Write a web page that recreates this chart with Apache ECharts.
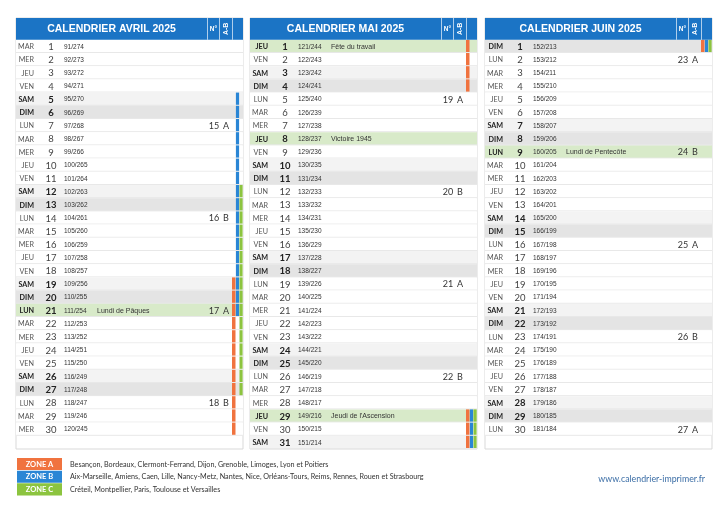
<!DOCTYPE html>
<html><head><meta charset="utf-8">
<script src="https://cdn.jsdelivr.net/npm/echarts@6/dist/echarts.min.js"></script>
<style>html,body{margin:0;padding:0;background:#fff}#c{width:728px;height:515px}</style>
</head><body><div id="c"></div>
<script>
// ---------------- DATA ----------------
const monthNames = ['AVRIL', 'MAI', 'JUIN'];
const monthNumbers = [4, 5, 6];
const yearLabel = '2025';
const daysInYear = 365;
const firstDayOfYear = [91, 121, 152];

const dayNamesAvril = ['MAR','MER','JEU','VEN','SAM','DIM','LUN','MAR','MER','JEU','VEN','SAM','DIM','LUN','MAR','MER','JEU','VEN','SAM','DIM','LUN','MAR','MER','JEU','VEN','SAM','DIM','LUN','MAR','MER'];
const dayNamesMai = ['JEU','VEN','SAM','DIM','LUN','MAR','MER','JEU','VEN','SAM','DIM','LUN','MAR','MER','JEU','VEN','SAM','DIM','LUN','MAR','MER','JEU','VEN','SAM','DIM','LUN','MAR','MER','JEU','VEN','SAM'];
const dayNamesJuin = ['DIM','LUN','MAR','MER','JEU','VEN','SAM','DIM','LUN','MAR','MER','JEU','VEN','SAM','DIM','LUN','MAR','MER','JEU','VEN','SAM','DIM','LUN','MAR','MER','JEU','VEN','SAM','DIM','LUN'];

const weeksAvril = [[7, '15', 'A'], [14, '16', 'B'], [21, '17', 'A'], [28, '18', 'B']];
const weeksMai = [[5, '19', 'A'], [12, '20', 'B'], [19, '21', 'A'], [26, '22', 'B']];
const weeksJuin = [[2, '23', 'A'], [9, '24', 'B'], [16, '25', 'A'], [23, '26', 'B'], [30, '27', 'A']];

const holidaysAvril = [[21, 'Lundi de Pâques']];
const holidaysMai = [[1, 'Fête du travail'], [8, 'Victoire 1945'], [29, "Jeudi de l'Ascension"]];
const holidaysJuin = [[9, 'Lundi de Pentecôte']];

// school holidays: [fromMonth, fromDay, toMonth, toDay]
const vacancesZoneA = [[4, 19, 5, 4], [5, 29, 6, 1]];
const vacancesZoneB = [[4, 5, 4, 21], [5, 29, 6, 1]];
const vacancesZoneC = [[4, 12, 4, 27], [5, 29, 6, 1]];

const zoneNames = ['ZONE A', 'ZONE B', 'ZONE C'];
const zoneCities = [
  'Besançon, Bordeaux, Clermont-Ferrand, Dijon, Grenoble, Limoges, Lyon et Poitiers',
  'Aix-Marseille, Amiens, Caen, Lille, Nancy-Metz, Nantes, Nice, Orléans-Tours, Reims, Rennes, Rouen et Strasbourg',
  'Créteil, Montpellier, Paris, Toulouse et Versailles'
];
const siteUrl = 'www.calendrier-imprimer.fr';

// ---------------- STYLE / LAYOUT ----------------
const dayNamesAll = [dayNamesAvril, dayNamesMai, dayNamesJuin];
const weeksAll = [weeksAvril, weeksMai, weeksJuin];
const holidaysAll = [holidaysAvril, holidaysMai, holidaysJuin];
const vacAll = [vacancesZoneA, vacancesZoneB, vacancesZoneC];
const zoneColors = ['#f0733f', '#2a86d5', '#8cc43f'];
const headerBlue = '#1b74c5';
const panelLefts = [16, 250, 485];
const panelTop = 18, panelBottom = 449, panelW = 227;
const rows = 31, headerUnits = 1.65;
const colDayRight = 18, colNum = 35, colDoy = 48, colHol = 81, colWeek = 198, colLetter = 210;
const colN = 191, colAB = 203, colBars = 216;
const barEdges = [216, 219.9, 223.5, 227];
const SANS = '"Liberation Sans", Arial, sans-serif';
const LATO = 'Lato, "Open Sans", sans-serif';

function inVac(ranges, m, d) {
  const k = m * 100 + d;
  return ranges.some(r => k >= r[0] * 100 + r[1] && k <= r[2] * 100 + r[3]);
}

const chart = echarts.init(document.getElementById('c'), null, {renderer: 'canvas'});
const grids = [], xAxes = [], yAxes = [], series = [];

monthNames.forEach((mName, mi) => {
  grids.push({left: panelLefts[mi], top: panelTop, width: panelW, height: panelBottom - panelTop,
    show: true, borderColor: '#d9d9d9', borderWidth: 1, backgroundColor: '#fff'});
  xAxes.push({type: 'value', gridIndex: mi, min: 0, max: panelW, show: false});
  yAxes.push({type: 'value', gridIndex: mi, min: -headerUnits, max: rows, inverse: true, show: false});

  const names = dayNamesAll[mi];
  const weeks = weeksAll[mi];
  const hols = holidaysAll[mi];
  const mNum = monthNumbers[mi];

  // rows
  series.push({
    type: 'custom', xAxisIndex: mi, yAxisIndex: mi, silent: true,
    data: names.map((n, i) => [i + 1]),
    renderItem: function (params, api) {
      const d = api.value(0);
      const row = d - 1;
      const X = v => api.coord([v, row])[0];
      const y0 = api.coord([0, row])[1];
      const y1 = api.coord([0, row + 1])[1];
      const h = y1 - y0, ym = y0 + h / 2 + 0.5;
      const name = names[row];
      const hol = hols.find(x => x[0] === d);
      const wk = weeks.find(x => x[0] === d);
      const weekend = name === 'SAM' || name === 'DIM';
      const bold = weekend || !!hol;
      let bg = '#ffffff';
      if (hol) bg = '#d8eac9';
      else if (name === 'SAM') bg = '#f3f3f3';
      else if (name === 'DIM') bg = '#e4e4e4';
      const ch = [];
      ch.push({type: 'rect', shape: {x: X(0), y: y0, width: X(panelW) - X(0), height: h}, style: {fill: bg}});
      ch.push({type: 'line', shape: {x1: X(0), y1: y1 - 0.5, x2: X(panelW), y2: y1 - 0.5}, style: {stroke: '#e8e8e8', lineWidth: 1}});
      ch.push({type: 'text', style: {x: X(colDayRight), y: ym, text: name, align: 'right', verticalAlign: 'middle',
        fill: bold ? '#222' : '#555', font: (bold ? 'bold ' : '') + '7.2px ' + LATO}});
      ch.push({type: 'text', style: {x: X(colNum), y: ym, text: String(d), align: 'center', verticalAlign: 'middle',
        fill: bold ? '#222' : '#444', font: (bold ? 'bold ' : '') + '9.5px ' + LATO}});
      const doy = firstDayOfYear[mi] + row;
      ch.push({type: 'text', style: {x: X(colDoy), y: ym, text: doy + '/' + (daysInYear - doy), align: 'left', verticalAlign: 'middle',
        fill: '#333', font: '6.5px ' + SANS}});
      if (hol) ch.push({type: 'text', style: {x: X(colHol), y: ym, text: hol[1], align: 'left', verticalAlign: 'middle',
        fill: '#333', font: '7px ' + SANS}});
      if (wk) {
        ch.push({type: 'text', style: {x: X(colWeek), y: ym, text: wk[1], align: 'center', verticalAlign: 'middle', fill: '#333', font: '9px ' + LATO}});
        ch.push({type: 'text', style: {x: X(colLetter), y: ym, text: wk[2], align: 'center', verticalAlign: 'middle', fill: '#333', font: '9px ' + LATO}});
      }
      vacAll.forEach((ranges, zi) => {
        if (inVac(ranges, mNum, d)) {
          ch.push({type: 'rect', shape: {x: X(barEdges[zi]), y: y0, width: X(barEdges[zi + 1]) - X(barEdges[zi]) - 0.4, height: h - 1},
            style: {fill: zoneColors[zi]}});
        }
      });
      return {type: 'group', children: ch};
    }
  });

  // header
  series.push({
    type: 'custom', xAxisIndex: mi, yAxisIndex: mi, silent: true,
    data: [[0]],
    renderItem: function (params, api) {
      const X = v => api.coord([v, 0])[0];
      const yt = api.coord([0, -headerUnits])[1];
      const yb = api.coord([0, 0])[1];
      const ym = (yt + yb) / 2;
      const ch = [];
      ch.push({type: 'rect', shape: {x: X(0), y: yt, width: X(panelW) - X(0), height: yb - yt}, style: {fill: headerBlue}});
      [colN, colAB, colBars].forEach(c => ch.push({type: 'line', shape: {x1: X(c) + 0.5, y1: yt, x2: X(c) + 0.5, y2: yb},
        style: {stroke: 'rgba(255,255,255,0.65)', lineWidth: 1}}));
      ch.push({type: 'text', style: {x: (X(0) + X(colN)) / 2, y: ym + 0.5, text: 'CALENDRIER ' + mName + ' ' + yearLabel,
        align: 'center', verticalAlign: 'middle', fill: '#fff', font: 'bold 10.5px ' + SANS}});
      ch.push({type: 'text', style: {x: (X(colN) + X(colAB)) / 2 + 0.5, y: ym, text: 'N°', align: 'center', verticalAlign: 'middle',
        fill: '#fff', font: 'bold 6.5px ' + SANS}});
      ch.push({type: 'text', x: (X(colAB) + X(colBars)) / 2 + 0.5, y: ym, rotation: Math.PI / 2,
        style: {x: 0, y: 0, text: 'A-B', align: 'center', verticalAlign: 'middle', fill: '#fff', font: 'bold 7px ' + SANS}});
      return {type: 'group', children: ch};
    }
  });
});

// legend grid
const lg = monthNames.length;
grids.push({left: 17, top: 458, width: 440, height: 38, show: false});
xAxes.push({type: 'value', gridIndex: lg, min: 0, max: 440, show: false});
yAxes.push({type: 'category', gridIndex: lg, data: zoneNames, inverse: true, show: false});
series.push({
  type: 'custom', xAxisIndex: lg, yAxisIndex: lg, silent: true,
  data: zoneNames.map((z, i) => [i]),
  renderItem: function (params, api) {
    const i = api.value(0);
    const c = api.coord([0, i]);
    const bh = api.size([0, 1])[1];
    const x0 = c[0], x1 = api.coord([45, i])[0], xt = api.coord([53, i])[0];
    return {type: 'group', children: [
      {type: 'rect', shape: {x: x0, y: c[1] - bh / 2, width: x1 - x0, height: bh - 0.6}, style: {fill: zoneColors[i]}},
      {type: 'text', style: {x: (x0 + x1) / 2, y: c[1], text: zoneNames[i], align: 'center', verticalAlign: 'middle', fill: '#fff', font: 'bold 7.5px ' + LATO}},
      {type: 'text', style: {x: xt, y: c[1], text: zoneCities[i], align: 'left', verticalAlign: 'middle', fill: '#333', font: '7.2px ' + LATO}}
    ]};
  }
});

chart.setOption({
  animation: false,
  backgroundColor: '#ffffff',
  title: {text: siteUrl, right: 18, top: 470, textStyle: {color: '#3c6ea6', fontSize: 8.8, fontWeight: 'normal', fontFamily: 'Lato'}},
  grid: grids, xAxis: xAxes, yAxis: yAxes, series: series
});
</script></body></html>
